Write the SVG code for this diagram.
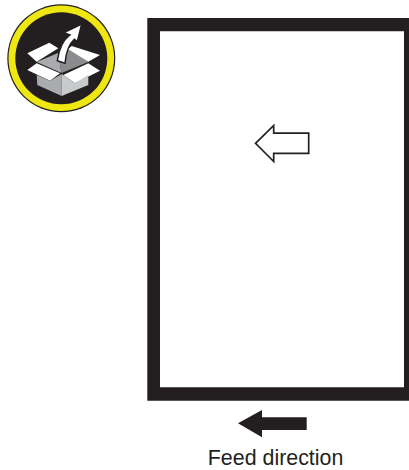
<svg xmlns="http://www.w3.org/2000/svg" width="409" height="470" viewBox="0 0 409 470">
<style>
.w{fill:#fff}.k{fill:#231f20}
text{font-family:"Liberation Sans",Arial,sans-serif;font-size:21.4px;fill:#231f20}
</style>
<rect width="409" height="470" fill="#fff"/>
<g id="frame"><path class="k" fill-rule="evenodd" d="M147.300 18H409V400.700H147.300ZM160 31.200V387.300H404V31.200Z"/></g>
<g id="icon">
<circle cx="61.300" cy="58.300" r="54" class="k"/>
<circle cx="61.300" cy="58.300" r="52.800" fill="#eee711"/>
<circle cx="61.300" cy="58.300" r="46" class="k"/>
<path fill="#a9abae" d="M36.700 62L58 53L61.500 73L36.700 62Z"/>
<path fill="#8a8c8e" d="M58 53L70 48L88.300 62L61.500 73Z"/>
<path class="w" d="M27.300 53.300L49.300 42.700L58.300 48.300L36.700 61.700Z"/>
<path class="w" d="M71.700 46L100 55L88.300 61.700L68 49Z"/>
<path class="w" d="M27.300 70L36.700 63.300L60 73.300L50 80.700Z"/>
<path class="w" d="M88.300 63.300L100 70.700L75 83.300L63.300 75Z"/>
<path fill="#a9abae" d="M36.700 75L50 80.700L61.700 74V96L37.300 85Z"/>
<path fill="#c9cacc" d="M61.700 74L75 83.300L88.300 75V85L61.700 96Z"/>
<path class="w" stroke="#231f20" stroke-width="1.500" stroke-linejoin="miter" d="M57.300 60.700C59 49 63 40 70 35L64 32.700L81.700 24L77.300 41.700L74.300 39.300C69 44 66 52 65 63.300Z"/>
</g>
<g id="hollow-arrow"><path fill="#fff" stroke="#231f20" stroke-width="1.700" d="M255.500 143.300L273.700 125.500V133.200H308.700V153.300H273.700V161.500Z"/></g>
<g id="feed-arrow"><path class="k" d="M238 423.300L262 410V417.300H306.700V430H262V437.300Z"/></g>
<g id="label"><text x="207.800" y="465.400">Feed direction</text></g>
</svg>
